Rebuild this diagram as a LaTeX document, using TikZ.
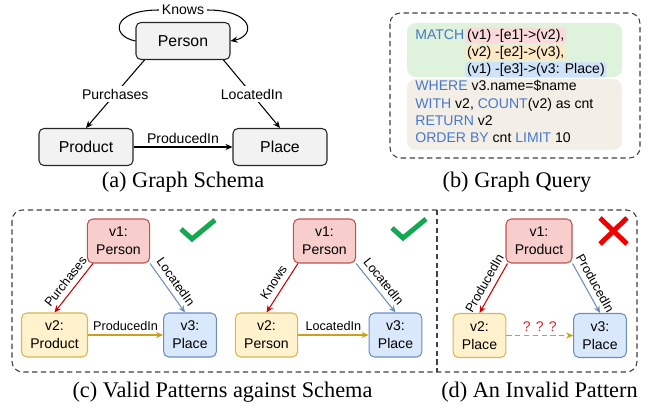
\documentclass[tikz,border=0pt]{standalone}
\usepackage{fontspec}
\setmainfont{Liberation Sans}
\newfontfamily\capfont{Liberation Serif}
\usepackage{tikz}
\usetikzlibrary{positioning,arrows.meta,calc}

\definecolor{kwblue}{RGB}{70,120,205}
\definecolor{matchbg}{RGB}{222,242,220}
\definecolor{restbg}{RGB}{243,239,230}
\definecolor{hlred}{RGB}{250,218,218}
\definecolor{hlorange}{RGB}{252,232,196}
\definecolor{hlblue}{RGB}{206,226,248}
\definecolor{vredfill}{RGB}{248,206,204}
\definecolor{vreddraw}{RGB}{184,84,80}
\definecolor{vyelfill}{RGB}{255,242,204}
\definecolor{vyeldraw}{RGB}{214,182,86}
\definecolor{vbluefill}{RGB}{218,232,252}
\definecolor{vbluedraw}{RGB}{108,142,191}
\definecolor{edgered}{RGB}{204,0,0}
\definecolor{edgeyel}{RGB}{204,160,30}
\definecolor{okgreen}{RGB}{20,168,80}
\definecolor{badred}{RGB}{240,0,0}
\definecolor{qmark}{RGB}{210,40,40}

\newcommand{\qkw}[1]{\textcolor{kwblue}{#1}}

\begin{document}
\begin{tikzpicture}[x=0.02cm, y=-0.02cm,
        schemanode/.style={rectangle, rounded corners=2.8pt, draw=black!85, fill=black!5, line width=0.6pt, minimum width=1.88cm, minimum height=0.74cm, font=\fontsize{9}{11}\selectfont},
        schemalabel/.style={fill=white, inner sep=1.5pt, font=\fontsize{8}{9}\selectfont},
        patnode/.style={rectangle, rounded corners=3pt, line width=0.6pt, minimum height=0.88cm, inner xsep=5pt, align=center, font=\fontsize{8}{10.2}\selectfont},
        vred/.style={patnode, draw=vreddraw, fill=vredfill},
        vyel/.style={patnode, draw=vyeldraw, fill=vyelfill},
        vblue/.style={patnode, draw=vbluedraw, fill=vbluefill},
        plabel/.style={sloped, above, inner sep=3pt, font=\fontsize{7.2}{8}\selectfont},
        arr/.style={-{Stealth[length=4pt, width=3.5pt]}, line width=0.6pt},
        redarr/.style={arr, draw=edgered},
        bluearr/.style={arr, draw=vbluedraw},
        yelarr/.style={arr, draw=edgeyel},
        frame/.style={draw=black!75, line width=0.6pt, dash pattern=on 3pt off 2pt},
        qtext/.style={anchor=base west, inner sep=0pt, font=\fontsize{8}{9.6}\selectfont},
        qhl/.style={qtext, inner xsep=1pt, text height=6.6pt, text depth=2.2pt, rounded corners=1pt},
        caption/.style={anchor=base, inner sep=0pt, font=\capfont\fontsize{12.7}{14}\selectfont},
        verdict/.style={line width=2.8pt},
]
    \useasboundingbox (0,0) rectangle (652,408);

    % (a) schema
    \node[schemanode] (person) at (183,41) {Person};
    \node[schemanode] (product) at (86,147) {Product};
    \node[schemanode] (place) at (280,147) {Place};
    \node[schemalabel] (knows) at (183,10) {Knows};

    \draw[line width=0.6pt] (person.west) .. controls (110,36) and (112,10) .. (knows.west);
    \draw[arr] (knows.east) .. controls (254,10) and (256,36) .. (person.east);
    \draw[arr] ($(person.south west)+(9,0)$) -- node[schemalabel] {Purchases} (product.north);
    \draw[arr] ($(person.south east)+(-7,0)$) -- node[schemalabel] {LocatedIn} (place.north);
    \draw[arr] (product) -- node[above, inner sep=1.5pt, font=\fontsize{8}{9}\selectfont] {ProducedIn} (place);

    \node[caption] (capa) at (183,188) {(a) Graph Schema};

    % (b) query
    \draw[frame, rounded corners=6pt] (390,13) rectangle (640,158);
    \fill[matchbg, rounded corners=5pt] (407,23) rectangle (622,77);
    \fill[restbg, rounded corners=5pt] (407,79) rectangle (622,150);

    \node[qtext] (qmatch) at (415,39.3) {\qkw{MATCH}};
    \node[qhl, fill=hlred] (qe1) at (465,39.3) {(v1) -[e1]->(v2),};
    \node[qhl, fill=hlorange] (qe2) at (465,56.5) {(v2) -[e2]->(v3),};
    \node[qhl, fill=hlblue] (qe3) at (465,73.7) {(v1) -[e3]->(v3: Place)};
    \node[qtext] (qwhere) at (415,91) {\qkw{WHERE} v3.name=\$name};
    \node[qtext] (qwith) at (415,108.2) {\qkw{WITH} v2, \qkw{COUNT}(v2) as cnt};
    \node[qtext] (qreturn) at (415,125.4) {\qkw{RETURN} v2};
    \node[qtext] (qorder) at (415,142.6) {\qkw{ORDER BY} cnt \qkw{LIMIT} 10};

    \node[caption] (capb) at (517,188) {(b) Graph Query};

    % (c) and (d) patterns
    \draw[frame, rounded corners=6pt] (12,210) rectangle (637,372);
    \draw[frame] (437,210) -- (437,372);

    \node[vred] (av1) at (118.5,241) {v1:\\Person};
    \node[vyel] (av2) at (54.5,335) {v2:\\Product};
    \node[vblue] (av3) at (190,335) {v3:\\Place};
    \draw[redarr] ($(av1.south west)+(6,0)$) -- node[plabel] {Purchases} (av2.north);
    \draw[bluearr] (av1.south east) -- node[plabel] {LocatedIn} ($(av3.north)+(-5,0)$);
    \draw[yelarr] (av2) -- node[plabel, inner sep=2pt] {ProducedIn} (av3);
    \draw[verdict, okgreen] (181,229) -- (192,239) -- (215,220);

    \node[vred] (bv1) at (324.5,241) {v1:\\Person};
    \node[vyel] (bv2) at (266.5,335) {v2:\\Person};
    \node[vblue] (bv3) at (395.5,335) {v3:\\Place};
    \draw[redarr] ($(bv1.south west)+(5,0)$) -- node[plabel] {Knows} (bv2.north);
    \draw[bluearr] (bv1.south east) -- node[plabel] {LocatedIn} (bv3.north);
    \draw[yelarr] (bv2) -- node[plabel, inner sep=2pt] {LocatedIn} (bv3);
    \draw[verdict, okgreen] (392,228) -- (403,238) -- (426,219);

    \node[vred] (cv1) at (539,241) {v1:\\Product};
    \node[vyel] (cv2) at (479.5,335.5) {v2:\\Place};
    \node[vblue] (cv3) at (600,335.5) {v3:\\Place};
    \draw[redarr] ($(cv1.south west)+(2,0)$) -- node[plabel] {ProducedIn} (cv2.north);
    \draw[bluearr] (cv1.south east) -- node[plabel] {ProducedIn} (cv3.north);
    \draw[yelarr, dash pattern=on 3pt off 2pt] (cv2) -- node[above, inner sep=2pt, text=qmark, font=\fontsize{8}{9}\selectfont] {? ? ?} (cv3);
    \draw[verdict, badred] (600,218) -- (627,244);
    \draw[verdict, badred] (627,218) -- (600,244);

    \node[caption] (capc) at (222.5,397) {(c) Valid Patterns against Schema};
    \node[caption] (capd) at (539.5,397) {(d) An Invalid Pattern};
\end{tikzpicture}
\end{document}
